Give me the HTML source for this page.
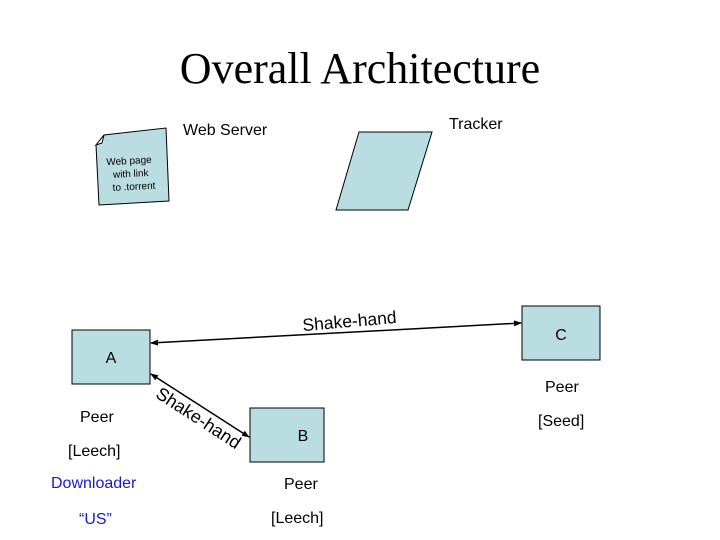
<!DOCTYPE html>
<html><head><meta charset="utf-8"><style>
body{margin:0;background:#fff}
svg{display:block}
text{font-family:"Liberation Sans",Arial,sans-serif;fill:#000}
</style></head><body>
<svg width="720" height="540" viewBox="0 0 720 540">
<defs>
<marker id="ah" markerWidth="8" markerHeight="8" refX="7" refY="4" orient="auto-start-reverse" markerUnits="userSpaceOnUse">
<path d="M0,1 L8,4 L0,7 z" fill="#000"/></marker>
</defs>
<text x="360" y="83" text-anchor="middle" style="font-family:'Liberation Serif',serif;font-size:44px">Overall Architecture</text>
<text x="183" y="135" font-size="16">Web Server</text>
<text x="449" y="129" font-size="16">Tracker</text>
<path d="M104,135 L166,128 L169,201 L99,205 L96,145 Z" fill="#b9dde0" stroke="#000" stroke-width="1"/>
<path d="M96,145 L104,135 L102,143 Z" fill="#fff" stroke="#000" stroke-width="1"/>
<text x="107" y="164" font-size="10" transform="rotate(-3 130 175)">Web page</text>
<text x="113" y="177" font-size="10" transform="rotate(-3 130 175)">with link</text>
<text x="112" y="190" font-size="10" transform="rotate(-3 130 175)">to .torrent</text>
<polygon points="359,132 432,132 408,210 336,210" fill="#b9dde0" stroke="#000" stroke-width="1"/>
<rect x="72" y="330" width="78" height="54" fill="#b9dde0" stroke="#000" stroke-width="1"/>
<text x="111" y="363" font-size="16" text-anchor="middle">A</text>
<rect x="250" y="408" width="74" height="54" fill="#b9dde0" stroke="#000" stroke-width="1"/>
<text x="303" y="441" font-size="16" text-anchor="middle">B</text>
<rect x="522" y="306" width="78" height="54" fill="#b9dde0" stroke="#000" stroke-width="1"/>
<text x="561" y="340" font-size="16" text-anchor="middle">C</text>
<line x1="151" y1="343" x2="521" y2="323" stroke="#000" stroke-width="1.5" marker-start="url(#ah)" marker-end="url(#ah)"/>
<line x1="151" y1="374" x2="249" y2="437" stroke="#000" stroke-width="1.5" marker-start="url(#ah)" marker-end="url(#ah)"/>
<text x="302" y="327" font-size="17.5" transform="rotate(-5 350 318)">Shake-hand</text>
<text x="157" y="398" font-size="18" transform="rotate(33 158 393)">Shake-hand</text>
<text x="80" y="422" font-size="16">Peer</text>
<text x="68" y="456" font-size="16">[Leech]</text>
<text x="51" y="488" font-size="16" style="fill:#1a1acc">Downloader</text>
<text x="79" y="524" font-size="16" style="fill:#1a1acc">“US”</text>
<text x="284" y="489" font-size="16">Peer</text>
<text x="271" y="523" font-size="16">[Leech]</text>
<text x="545" y="392" font-size="16">Peer</text>
<text x="538" y="426" font-size="16">[Seed]</text>
</svg>
</body></html>
